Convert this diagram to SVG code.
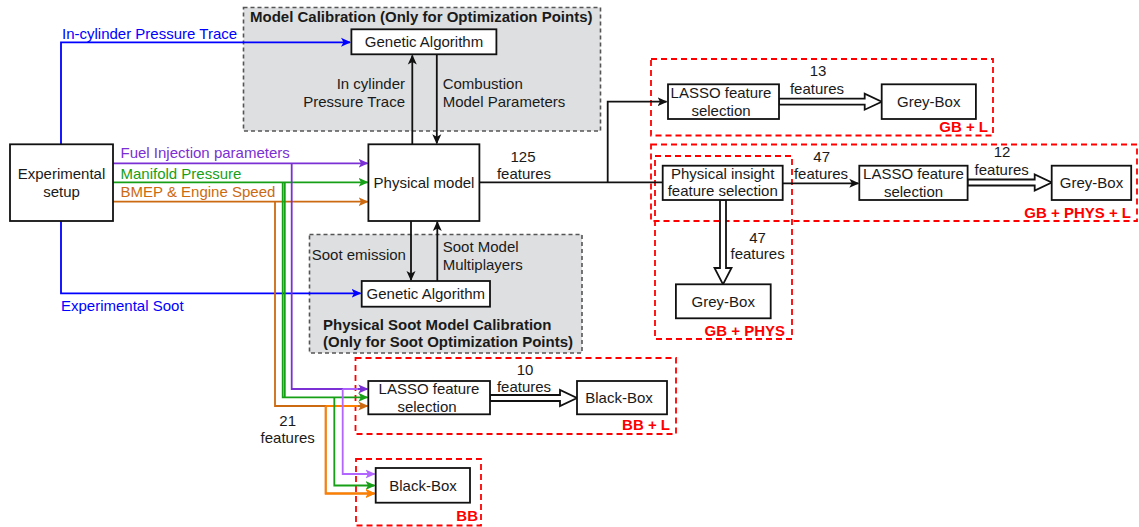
<svg xmlns="http://www.w3.org/2000/svg" width="1139" height="527" viewBox="0 0 1139 527">
  <style>
    text { font-family: "Liberation Sans", Arial, sans-serif; font-size: 15px; fill: #1a1a1a; }
    .b { font-weight: bold; }
    .mid { text-anchor: middle; }
    .end { text-anchor: end; }
    .red { fill: #ff0000; font-weight: bold; }
    .node { fill: #ffffff; stroke: #111111; stroke-width: 1.8; }
    .calib { fill: #dddfe0; stroke: #555555; stroke-width: 1.6; stroke-dasharray: 4 3; }
    .group { fill: none; stroke: #ff0000; stroke-width: 1.8; stroke-dasharray: 6 4; }
    .ln { fill: none; stroke-width: 1.8; }
    .k { stroke: #111111; }
    .blue { stroke: #0000ff; }
    .pur { stroke: #7a30d4; }
    .lpur { stroke: #b266ff; }
    .grn { stroke: #17a017; }
    .org { stroke: #cc6a12; }
    .lorg { stroke: #ff8000; }
    .flex { fill: #ffffff; stroke: #111111; stroke-width: 1.8; stroke-linejoin: miter; }
  </style>
  <defs>
    <marker id="ak" markerUnits="userSpaceOnUse" markerWidth="10" markerHeight="10" viewBox="0 0 10 10" refX="9" refY="5" orient="auto"><path d="M0,0.5 L10,5 L0,9.5 L2.5,5 Z" fill="#111111"/></marker>
    <marker id="ab" markerUnits="userSpaceOnUse" markerWidth="10" markerHeight="10" viewBox="0 0 10 10" refX="9" refY="5" orient="auto"><path d="M0,0.5 L10,5 L0,9.5 L2.5,5 Z" fill="#0000ff"/></marker>
    <marker id="ap" markerUnits="userSpaceOnUse" markerWidth="10" markerHeight="10" viewBox="0 0 10 10" refX="9" refY="5" orient="auto"><path d="M0,0.5 L10,5 L0,9.5 L2.5,5 Z" fill="#7a30d4"/></marker>
    <marker id="alp" markerUnits="userSpaceOnUse" markerWidth="10" markerHeight="10" viewBox="0 0 10 10" refX="9" refY="5" orient="auto"><path d="M0,0.5 L10,5 L0,9.5 L2.5,5 Z" fill="#b266ff"/></marker>
    <marker id="ag" markerUnits="userSpaceOnUse" markerWidth="10" markerHeight="10" viewBox="0 0 10 10" refX="9" refY="5" orient="auto"><path d="M0,0.5 L10,5 L0,9.5 L2.5,5 Z" fill="#17a017"/></marker>
    <marker id="ao" markerUnits="userSpaceOnUse" markerWidth="10" markerHeight="10" viewBox="0 0 10 10" refX="9" refY="5" orient="auto"><path d="M0,0.5 L10,5 L0,9.5 L2.5,5 Z" fill="#cc6a12"/></marker>
    <marker id="alo" markerUnits="userSpaceOnUse" markerWidth="10" markerHeight="10" viewBox="0 0 10 10" refX="9" refY="5" orient="auto"><path d="M0,0.5 L10,5 L0,9.5 L2.5,5 Z" fill="#ff8000"/></marker>
  </defs>

  <!-- calibration containers -->
  <g id="model-calibration">
    <rect class="calib" x="243.5" y="7.5" width="357" height="123.5"/>
    <text class="b" x="250" y="22">Model Calibration (Only for Optimization Points)</text>
  </g>
  <g id="soot-calibration">
    <rect class="calib" x="309.5" y="234.5" width="272.5" height="118.5"/>
    <text class="b" x="323" y="329.5">Physical Soot Model Calibration</text>
    <text class="b" x="323" y="347">(Only for Soot Optimization Points)</text>
  </g>

  <!-- model groups -->
  <g id="group-gb-l">
    <rect class="group" x="651" y="59" width="342" height="76.5"/>
    <text class="red end" x="988" y="131.5">GB + L</text>
  </g>
  <g id="group-gb-phys-l">
    <rect class="group" x="651" y="144.5" width="486" height="76.5"/>
    <text class="red end" x="1131" y="217.5">GB + PHYS + L</text>
  </g>
  <g id="group-gb-phys">
    <rect class="group" x="655" y="156" width="137" height="183"/>
    <text class="red end" x="785" y="336">GB + PHYS</text>
  </g>
  <g id="group-bb-l">
    <rect class="group" x="355.5" y="358" width="320.5" height="76"/>
    <text class="red end" x="670" y="430">BB + L</text>
  </g>
  <g id="group-bb">
    <rect class="group" x="356" y="459" width="125" height="66.5"/>
    <text class="red end" x="478" y="521">BB</text>
  </g>

  <!-- connectors -->
  <g id="connectors">
    <!-- measured signals from the test bench -->
    <path class="ln blue" d="M61,146 V42.3 H350" marker-end="url(#ab)"/>
    <path class="ln blue" d="M61,220 V293.3 H360.5" marker-end="url(#ab)"/>
    <path class="ln pur" d="M113,163.3 H367.5" marker-end="url(#ap)"/>
    <path class="ln grn" d="M113,182.3 H367.5" marker-end="url(#ag)"/>
    <path class="ln org" d="M113,201.7 H367.5" marker-end="url(#ao)"/>

    <!-- calibration loops -->
    <path class="ln k" d="M412.3,144.3 V55.5" marker-end="url(#ak)"/>
    <path class="ln k" d="M436.8,54.3 V143.3" marker-end="url(#ak)"/>
    <path class="ln k" d="M411,221 V280" marker-end="url(#ak)"/>
    <path class="ln k" d="M437.3,281 V222" marker-end="url(#ak)"/>

    <!-- raw features to the black-box models -->
    <path class="ln pur" d="M291.7,163.3 V389 H367.3" marker-end="url(#ap)"/>
    <path class="ln grn" d="M282.7,182.3 V397.3 H367.3" marker-end="url(#ag)"/>
    <path class="ln grn" d="M284.8,182.3 V397.3"/>
    <path class="ln org" d="M275,201.7 V406 H367.3" marker-end="url(#ao)"/>
    <path class="ln lpur" d="M342.7,389 H358"/>
    <path class="ln lorg" d="M325.7,406 H358"/>
    <path class="ln lpur" d="M342.7,389 V474 H374.5" marker-end="url(#alp)"/>
    <path class="ln grn" d="M334.3,397.3 V485.5 H374.5" marker-end="url(#ag)"/>
    <path class="ln org" d="M325.7,406 V493.5 H374.5" marker-end="url(#alo)"/>
    <path class="ln lorg" d="M325.7,406 V493.5 H374.5" marker-end="url(#alo)"/>

    <!-- physical model outputs -->
    <path class="ln k" d="M479.4,182.3 H662.7"/>
    <path class="ln k" d="M607.7,182.3 V101.7 H666.5" marker-end="url(#ak)"/>
    <path class="ln k" d="M782.7,183.3 H858.3" marker-end="url(#ak)"/>

    <!-- reduced feature sets -->
    <polygon class="flex" points="779,98.7 864.7,98.7 864.7,93.7 881.7,101.7 864.7,109.7 864.7,104.7 779,104.7"/>
    <polygon class="flex" points="967.6,179.5 1034.7,179.5 1034.7,174.5 1051.7,182.5 1034.7,190.5 1034.7,185.5 967.6,185.5"/>
    <polygon class="flex" points="490,395 560,395 560,390 577,398 560,406 560,401 490,401"/>
    <polygon class="flex" points="720,200 720,268 714.5,268 723,284.3 731.5,268 726,268 726,200"/>
  </g>

  <!-- connector labels -->
  <g id="labels">
    <text fill="#0000ff" style="fill:#0000ff" x="62" y="39">In-cylinder Pressure Trace</text>
    <text style="fill:#0000ff" x="61" y="311">Experimental Soot</text>
    <text style="fill:#7a30d4" x="120.5" y="157.7">Fuel Injection parameters</text>
    <text style="fill:#17a017" x="120.5" y="179">Manifold Pressure</text>
    <text style="fill:#cc6a12" x="120.5" y="197.3">BMEP &amp; Engine Speed</text>
    <text class="end" x="405" y="89.3">In cylinder</text>
    <text class="end" x="405" y="106.7">Pressure Trace</text>
    <text x="442.7" y="89.3">Combustion</text>
    <text x="442.7" y="106.7">Model Parameters</text>
    <text x="311.7" y="260">Soot emission</text>
    <text x="442.7" y="252.3">Soot Model</text>
    <text x="442.7" y="270">Multiplayers</text>
    <text class="mid" x="523" y="162">125</text>
    <text class="mid" x="524" y="179">features</text>
    <text class="mid" x="818" y="76">13</text>
    <text class="mid" x="817" y="94">features</text>
    <text class="mid" x="821.7" y="161.7">47</text>
    <text class="mid" x="821" y="179">features</text>
    <text class="mid" x="1002" y="156.7">12</text>
    <text class="mid" x="1001.7" y="175">features</text>
    <text class="mid" x="757.6" y="242.7">47</text>
    <text class="mid" x="757.6" y="259.3">features</text>
    <text class="mid" x="525" y="375">10</text>
    <text class="mid" x="524" y="392.3">features</text>
    <text class="mid" x="287.7" y="426">21</text>
    <text class="mid" x="287.7" y="443.3">features</text>
  </g>

  <!-- nodes -->
  <g id="experimental-setup">
    <rect class="node" x="10" y="144.3" width="103" height="76.7"/>
    <text class="mid" x="61.5" y="179">Experimental</text>
    <text class="mid" x="61.5" y="196.7">setup</text>
  </g>
  <g id="genetic-algorithm-combustion">
    <rect class="node" x="351.4" y="29.3" width="145" height="25"/>
    <text class="mid" x="424" y="47">Genetic Algorithm</text>
  </g>
  <g id="physical-model">
    <rect class="node" x="368.4" y="144.3" width="111" height="76.7"/>
    <text class="mid" x="424" y="188">Physical model</text>
  </g>
  <g id="genetic-algorithm-soot">
    <rect class="node" x="361.7" y="281" width="128.3" height="25.7"/>
    <text class="mid" x="425.8" y="299">Genetic Algorithm</text>
  </g>
  <g id="lasso-gb-l">
    <rect class="node" x="668" y="84.3" width="111" height="34.7"/>
    <text class="mid" x="721" y="98.3">LASSO feature</text>
    <text class="mid" x="721" y="116">selection</text>
  </g>
  <g id="grey-box-gb-l">
    <rect class="node" x="881.7" y="84.3" width="94.2" height="34.7"/>
    <text class="mid" x="928.8" y="106.7">Grey-Box</text>
  </g>
  <g id="physical-insight-selection">
    <rect class="node" x="662.7" y="165.7" width="120" height="34.3"/>
    <text class="mid" x="722.7" y="179">Physical insight</text>
    <text class="mid" x="722.7" y="196">feature selection</text>
  </g>
  <g id="lasso-gb-phys-l">
    <rect class="node" x="859.3" y="165.7" width="108.3" height="34.3"/>
    <text class="mid" x="913.5" y="179">LASSO feature</text>
    <text class="mid" x="913.5" y="196.5">selection</text>
  </g>
  <g id="grey-box-gb-phys-l">
    <rect class="node" x="1051.7" y="165.7" width="79.5" height="34.3"/>
    <text class="mid" x="1091.5" y="188">Grey-Box</text>
  </g>
  <g id="grey-box-gb-phys">
    <rect class="node" x="675.9" y="284.3" width="94.8" height="34"/>
    <text class="mid" x="723.3" y="306.7">Grey-Box</text>
  </g>
  <g id="lasso-bb-l">
    <rect class="node" x="368.3" y="381" width="121.7" height="33.3"/>
    <text class="mid" x="429" y="394">LASSO feature</text>
    <text class="mid" x="427" y="411.5">selection</text>
  </g>
  <g id="black-box-bb-l">
    <rect class="node" x="577" y="381" width="90" height="33.3"/>
    <text class="mid" x="619" y="403.3">Black-Box</text>
  </g>
  <g id="black-box-bb">
    <rect class="node" x="375.7" y="468" width="94.3" height="34.7"/>
    <text class="mid" x="423" y="491">Black-Box</text>
  </g>
</svg>
